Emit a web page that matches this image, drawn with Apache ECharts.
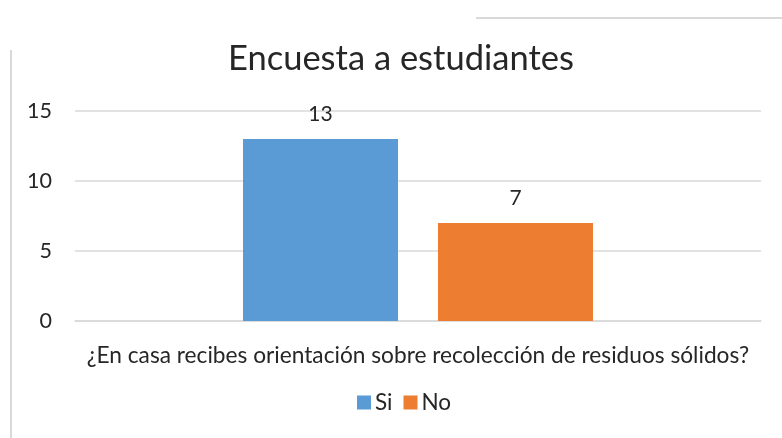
<!DOCTYPE html>
<html>
<head>
<meta charset="utf-8">
<script src="https://cdn.jsdelivr.net/npm/echarts@6/dist/echarts.min.js"></script>
<style>
  html, body { margin: 0; padding: 0; background: #fff; }
  #chart { width: 782px; height: 438px; }
</style>
</head>
<body>
<div id="chart"></div>
<script>
const categories = ['¿En casa recibes orientación sobre recolección de residuos sólidos?'];
const seriesNames = ['Si', 'No'];
const siValues = [13];
const noValues = [7];
const yTicks = [0, 5, 10, 15];

const font = 'Lato, "Open Sans", sans-serif';
const textColor = '#262626';

let myChart = echarts.init(document.getElementById('chart'));
myChart.setOption({
	animation: false,
	title: {
		text: 'Encuesta a estudiantes',
		left: 223,
		top: 36,
		textStyle: { fontFamily: font, fontSize: 34.5, fontWeight: 'normal', color: textColor }
	},
	legend: {
		data: seriesNames,
		bottom: 19,
		left: 352,
		itemWidth: 14,
		itemHeight: 14,
		itemGap: 11,
		icon: 'rect',
		textStyle: { fontFamily: font, fontSize: 22.5, color: textColor, padding: [0, 0, 0, -1] }
	},
	grid: { left: 75, right: 21, top: 111, bottom: 117 },
	xAxis: {
		type: 'category',
		data: categories,
		axisLine: { lineStyle: { color: '#d9d9d9', width: 1.5 } },
		axisTick: { show: false },
		axisLabel: { fontFamily: font, fontSize: 22.7, color: textColor, margin: 23 }
	},
	yAxis: {
		type: 'value',
		min: yTicks[0],
		max: yTicks[yTicks.length - 1],
		interval: 5,
		axisLine: { show: false },
		axisTick: { show: false },
		axisLabel: { fontFamily: font, fontSize: 21.5, color: textColor, margin: 23 },
		splitLine: { lineStyle: { color: '#d9d9d9', width: 1.5 } }
	},
	series: [
		{
			name: seriesNames[0],
			type: 'bar',
			data: siValues,
			barWidth: 155,
			barGap: '25.8%',
			itemStyle: { color: '#5b9bd5' },
			label: { show: true, position: 'top', distance: 14, fontFamily: font, fontSize: 21, color: textColor }
		},
		{
			name: seriesNames[1],
			type: 'bar',
			data: noValues,
			barWidth: 155,
			itemStyle: { color: '#ed7d31' },
			label: { show: true, position: 'top', distance: 14, fontFamily: font, fontSize: 21, color: textColor }
		}
	],
	graphic: [
		{ type: 'line', shape: { x1: 11, y1: 50, x2: 11, y2: 438 }, style: { stroke: '#d9d9d9', lineWidth: 2 } },
		{ type: 'line', shape: { x1: 476, y1: 18, x2: 782, y2: 18 }, style: { stroke: '#d9d9d9', lineWidth: 2 } }
	]
});
</script>
</body>
</html>
